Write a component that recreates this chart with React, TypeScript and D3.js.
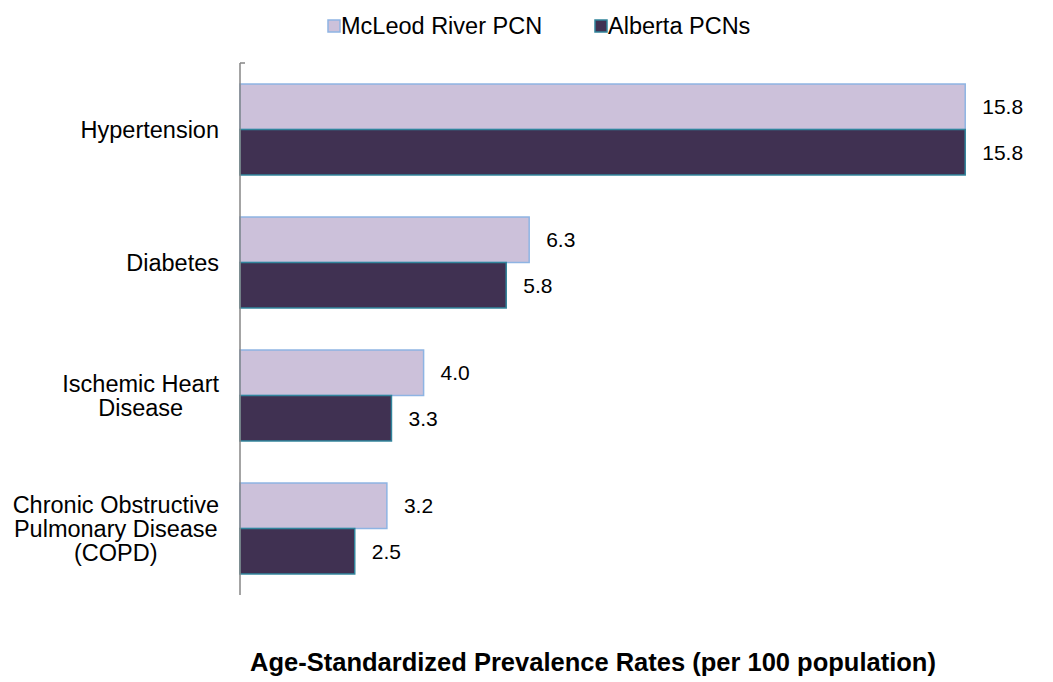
import * as d3 from 'd3';
import { useEffect, useRef } from 'react';

const width = 1053;
const height = 682;

const categories = ['Hypertension', 'Diabetes', 'Ischemic Heart Disease', 'COPD'];
const categoryLines = [
  ['Hypertension'],
  ['Diabetes'],
  ['Ischemic Heart', 'Disease'],
  ['Chronic Obstructive', 'Pulmonary Disease', '(COPD)'],
];
const mcleodValues = [15.8, 6.3, 4.0, 3.2];
const albertaValues = [15.8, 5.8, 3.3, 2.5];
const seriesNames = ['McLeod River PCN', 'Alberta PCNs'];
const title = 'Age-Standardized Prevalence Rates (per 100 population)';

const fills = ['#CCC1DA', '#403152'];
const strokes = ['#8EB4E3', '#31849B'];
const font = 'Arial, "Liberation Sans", sans-serif';
const valueSize = 21;
const labelSize = 23.5;

const plot = { left: 240, top: 63, bottom: 595 };

export default function App() {
  const svgRef = useRef<SVGSVGElement>(null);

  useEffect(() => {
    const svg = d3.select(svgRef.current);
    svg.selectAll('*').remove();

    const x = d3.scaleLinear().domain([0, 16]).range([plot.left, plot.left + 16 * 45.9]);
    const y = d3
      .scaleBand<string>()
      .domain(categories)
      .range([plot.top, plot.bottom])
      .paddingInner(0.316)
      .paddingOuter(0.158);
    const inner = d3.scaleBand<number>().domain([0, 1]).range([0, y.bandwidth()]);

    const rows = categories.map((c, i) => ({ c, i, vals: [mcleodValues[i], albertaValues[i]] }));

    // bars
    const groups = svg
      .append('g')
      .selectAll('g')
      .data(rows)
      .join('g')
      .attr('transform', (d) => `translate(0,${y(d.c)})`);

    groups
      .selectAll('rect')
      .data((d) => d.vals.map((v, s) => ({ v, s })))
      .join('rect')
      .attr('x', x(0))
      .attr('y', (d) => inner(d.s)!)
      .attr('width', (d) => x(d.v) - x(0))
      .attr('height', inner.bandwidth())
      .attr('fill', (d) => fills[d.s])
      .attr('stroke', (d) => strokes[d.s])
      .attr('stroke-width', 1.5);

    groups
      .selectAll('text')
      .data((d) => d.vals.map((v, s) => ({ v, s })))
      .join('text')
      .attr('x', (d) => x(d.v) + 17)
      .attr('y', (d) => inner(d.s)! + inner.bandwidth() / 2)
      .attr('dy', '0.35em')
      .attr('font-family', font)
      .attr('font-size', valueSize)
      .attr('fill', '#000')
      .text((d) => d3.format('.1f')(d.v));

    // axis line
    svg
      .append('path')
      .attr('d', `M${plot.left},${plot.top}H${plot.left + 5}M${plot.left},${plot.top}V${plot.bottom}`)
      .attr('stroke', '#868686')
      .attr('stroke-width', 1.5)
      .attr('fill', 'none');

    // category labels, centred lines in a right-aligned block
    const ctx = document.createElement('canvas').getContext('2d')!;
    ctx.font = `${labelSize}px ${font}`;
    const lineH = 24;
    rows.forEach((r) => {
      const lines = categoryLines[r.i];
      const maxW = d3.max(lines, (l) => ctx.measureText(l).width)!;
      const cx = 219 - maxW / 2;
      const cy = y(r.c)! + y.bandwidth() / 2;
      svg
        .append('text')
        .attr('text-anchor', 'middle')
        .attr('font-family', font)
        .attr('font-size', labelSize)
        .selectAll('tspan')
        .data(lines)
        .join('tspan')
        .attr('x', cx)
        .attr('y', (_, j) => cy + (j - (lines.length - 1) / 2) * lineH)
        .attr('dy', '0.35em')
        .text((l) => l);
    });

    // legend
    const legendX = [328, 595];
    const leg = svg
      .append('g')
      .selectAll('g')
      .data(seriesNames)
      .join('g')
      .attr('transform', (_, i) => `translate(${legendX[i]},20)`);
    leg
      .append('rect')
      .attr('width', 12)
      .attr('height', 12)
      .attr('fill', (_, i) => fills[i])
      .attr('stroke', (_, i) => strokes[i])
      .attr('stroke-width', 1.5);
    leg
      .append('text')
      .attr('x', 13)
      .attr('y', 6)
      .attr('dy', '0.35em')
      .attr('font-family', font)
      .attr('font-size', labelSize)
      .text((d) => d);

    // title
    svg
      .append('text')
      .attr('x', 593)
      .attr('y', 662)
      .attr('dy', '0.35em')
      .attr('text-anchor', 'middle')
      .attr('font-family', font)
      .attr('font-size', 25.5)
      .attr('font-weight', 'bold')
      .text(title);
  }, []);

  return (
    <div style={{ position: 'absolute', left: 0, top: 0 }}>
      <svg ref={svgRef} width={width} height={height} style={{ display: 'block', background: '#fff' }} />
    </div>
  );
}
